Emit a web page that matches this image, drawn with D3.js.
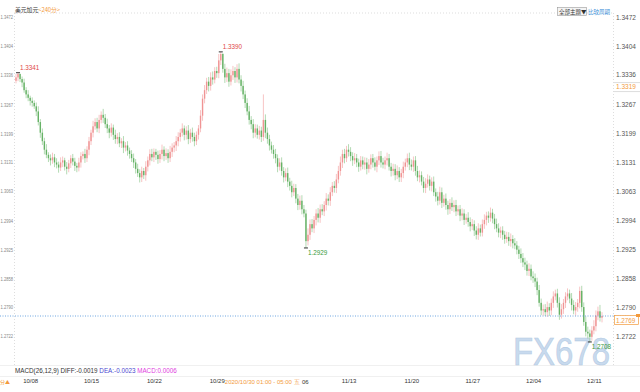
<!DOCTYPE html>
<html><head><meta charset="utf-8">
<script src="https://cdn.jsdelivr.net/npm/d3@7"></script>
<style>html,body{margin:0;padding:0;background:#fff;overflow:hidden}</style>
</head><body><svg id="c" width="640" height="392"></svg>
<script>
const title = "美元加元";
const period = "<240分>";
const firstOpen = 1.3322;
const closes = [
1.3330,1.3338,1.3326,1.3318,1.3300,1.3290,1.3282,1.3275,1.3270,1.3262,
1.3250,1.3225,1.3200,1.3180,1.3160,1.3148,1.3140,1.3135,1.3142,1.3130,
1.3125,1.3118,1.3130,1.3135,1.3120,1.3115,1.3128,1.3140,1.3132,1.3122,
1.3118,1.3130,1.3145,1.3150,1.3140,1.3160,1.3180,1.3200,1.3215,1.3225,
1.3210,1.3230,1.3242,1.3235,1.3220,1.3210,1.3200,1.3212,1.3195,1.3185,
1.3190,1.3175,1.3180,1.3165,1.3170,1.3158,1.3150,1.3140,1.3130,1.3115,
1.3105,1.3095,1.3110,1.3100,1.3120,1.3135,1.3150,1.3142,1.3155,1.3148,
1.3138,1.3150,1.3160,1.3145,1.3152,1.3140,1.3155,1.3165,1.3170,1.3180,
1.3190,1.3200,1.3210,1.3195,1.3205,1.3185,1.3200,1.3190,1.3180,1.3195,
1.3210,1.3240,1.3280,1.3300,1.3320,1.3310,1.3330,1.3325,1.3345,1.3340,
1.3370,1.3385,1.3350,1.3330,1.3340,1.3320,1.3335,1.3345,1.3330,1.3350,
1.3325,1.3310,1.3290,1.3270,1.3250,1.3230,1.3220,1.3200,1.3210,1.3195,
1.3205,1.3190,1.3230,1.3200,1.3185,1.3170,1.3160,1.3150,1.3140,1.3120,
1.3130,1.3110,1.3095,1.3105,1.3085,1.3075,1.3060,1.3070,1.3045,1.3030,
1.3040,1.3020,1.3010,1.2945,1.2960,1.2985,1.2975,1.2995,1.3010,1.3000,
1.3020,1.3015,1.3030,1.3045,1.3040,1.3060,1.3075,1.3070,1.3090,1.3110,
1.3130,1.3150,1.3140,1.3160,1.3155,1.3145,1.3135,1.3140,1.3130,1.3120,
1.3135,1.3125,1.3130,1.3115,1.3125,1.3140,1.3130,1.3120,1.3135,1.3145,
1.3130,1.3125,1.3135,1.3140,1.3120,1.3110,1.3115,1.3100,1.3110,1.3095,
1.3105,1.3120,1.3130,1.3140,1.3125,1.3120,1.3135,1.3110,1.3095,1.3100,
1.3085,1.3070,1.3080,1.3090,1.3075,1.3085,1.3060,1.3050,1.3040,1.3060,
1.3035,1.3045,1.3030,1.3020,1.3035,1.3025,1.3030,1.3015,1.3020,1.3005,
1.3010,1.2995,1.3000,1.2990,1.2980,1.2985,1.2970,1.2960,1.2975,1.2965,
1.2985,1.2995,1.3005,1.3000,1.3012,1.2998,1.2985,1.2975,1.2965,1.2970,
1.2960,1.2950,1.2955,1.2945,1.2950,1.2940,1.2935,1.2925,1.2915,1.2905,
1.2895,1.2890,1.2875,1.2880,1.2862,1.2858,1.2850,1.2830,1.2800,1.2782,
1.2785,1.2778,1.2790,1.2782,1.2800,1.2815,1.2822,1.2800,1.2772,1.2785,
1.2800,1.2815,1.2822,1.2810,1.2795,1.2782,1.2790,1.2800,1.2828,1.2790,
1.2755,1.2732,1.2728,1.2720,1.2735,1.2745,1.2770,1.2780,1.2765,1.2769
];
const wickUp = [
8,3,1,6,9,7,10,5,8,6, 9,12,7,10,8,13,6,9,11,8, 10,7,12,9,6,11,8,7,10,9, 7,11,9,6,12,8,10,7,13,9,
10,12,8,14,9,13,8,10,7,12, 9,11,7,12,8,10,7,9,11,8, 12,9,10,7,13,9,11,12,8,7, 10,9,12,8,11,9,14,10,8,12,
11,9,12,7,10,13,9,12,10,8, 8,13,10,12,9,11,12,14,9,10, 15,5,2,12,13,10,14,12,9,11, 13,10,12,9,11,13,9,12,10,9,
11,9,60,13,12,10,9,11,12,9, 10,12,9,11,13,9,12,10,9,11, 12,13,10,9,15,11,12,9,10,13, 11,12,9,13,10,12,9,11,13,12,
14,10,12,9,13,11,9,12,10,9, 10,9,12,11,13,9,10,12,9,11, 12,11,9,13,10,9,12,11,13,9, 10,12,9,11,13,12,9,10,12,11,
9,11,13,12,9,10,12,9,11,13, 11,9,12,10,9,13,11,12,9,10, 12,10,9,13,11,12,9,10,12,9, 11,13,9,10,12,9,11,13,12,9,
10,9,12,11,13,9,12,10,9,13, 12,11,9,13,10,12,11,9,12,10, 11,12,13,9,10,12,9,11,13,12, 9,10,12,9,13,11,12,9,10,12,
11,13,12,9,10,14,12,11,15,9
];
const wickDown = [
6,9,7,11,6,9,8,11,9,6, 11,8,12,9,11,8,9,12,8,11, 9,12,8,11,9,13,8,11,9,12, 11,9,12,8,11,9,13,9,11,8,
9,11,8,12,9,11,13,9,12,11, 12,9,11,13,9,12,11,9,13,11, 9,12,11,9,13,11,12,9,11,12, 11,9,13,12,9,11,9,12,11,13,
12,11,9,13,11,12,9,11,12,9, 11,9,12,11,9,13,11,12,9,11, 12,11,9,13,11,12,9,11,13,12, 9,13,11,12,9,11,12,13,11,9,
11,12,9,13,11,12,9,11,12,13, 9,11,12,9,13,11,12,9,11,12, 11,12,9,16,10,12,9,11,13,11, 12,9,11,13,11,12,9,11,12,9,
11,13,12,9,11,12,13,9,11,12, 9,11,12,13,9,11,12,9,13,11, 12,9,11,12,9,13,11,12,9,11, 11,12,9,11,13,9,12,11,9,12,
9,11,12,9,11,13,9,12,11,9, 12,9,11,13,11,9,12,11,9,13, 11,12,9,11,12,9,13,11,12,9, 9,11,13,12,9,11,12,9,11,13,
12,11,9,11,13,12,9,11,12,11, 11,13,11,12,9,11,13,12,9,11, 12,9,11,13,11,12,9,11,12,9, 11,12,9,11,13,9,12,11,13,11,
9,11,12,12,9,9,12,11,9,11
];
const yTicks = [1.3472,1.3404,1.3336,1.3267,1.3199,1.3131,1.3063,1.2994,1.2925,1.2858,1.2790,1.2722];
const xTickIdx = [7,37,68,99,164,195,225,255,285];
const xTickLabels = ["10/08","10/15","10/22","10/29","11/13","11/20","11/27","12/04","12/11"];
const crossDateIdx = 103;
const crossDateText = "2020/10/30 01:00 - 05:00 五";
const extraTickIdx = 141;
const extraTickText = "06";
const extremeIdx = [1,101,143,283];
const extremeType = ["high","high","low","low"];
const lastPrice = 1.2769;
const crossPrice = 1.3319;
const macdLabels = ["MACD(26,12,9) DIFF:-0.0019","DEA:-0.0023","MACD:0.0006"];
const macdColors = ["#333","#4a4ad0","#e040e0"];

const N = closes.length;
const data = closes.map((c,i)=>{
  const o = i ? closes[i-1] : firstOpen;
  return {i, o, c, h: Math.max(o,c)+wickUp[i]/1e4, l: Math.min(o,c)-wickDown[i]/1e4};
});

const svg = d3.select("#c");
const FONT = "'Liberation Sans Narrow','Arial Narrow','Liberation Sans',Arial,sans-serif";
const x = d3.scaleLinear().domain([0, N-1]).range([16, 602]);
const y = d3.scaleLinear().domain([1.2722, 1.3472]).range([336, 17]);

// frame / grid
svg.append("line").attr("x1",14).attr("x2",614).attr("y1",13).attr("y2",13)
  .attr("stroke","#ddd").attr("stroke-dasharray","1,2");
svg.append("line").attr("x1",14.5).attr("x2",14.5).attr("y1",13).attr("y2",365)
  .attr("stroke","#ddd").attr("stroke-dasharray","1,2");
svg.append("line").attr("x1",613.5).attr("x2",613.5).attr("y1",13).attr("y2",365)
  .attr("stroke","#ddd").attr("stroke-dasharray","1,2");
svg.append("line").attr("x1",0).attr("x2",640).attr("y1",365.5).attr("y2",365.5).attr("stroke","#f0f0f0");
svg.append("line").attr("x1",0).attr("x2",640).attr("y1",376.5).attr("y2",376.5).attr("stroke","#f0f0f0");

// watermark
svg.append("text").attr("x",513).attr("y",365).text("FX678")
  .attr("font-family","'Liberation Sans',Arial,sans-serif").attr("font-size",38)
  .attr("textLength",97).attr("lengthAdjust","spacingAndGlyphs")
  .attr("fill","#c8daee").attr("stroke","#b5cbe3").attr("stroke-width",0.6);

// axes
const ry = svg.append("g").attr("transform","translate(614,0)")
  .call(d3.axisRight(y).tickValues(yTicks).tickFormat(d3.format(".4f")).tickSize(0).tickPadding(2));
ry.select(".domain").remove();
ry.selectAll("text").attr("font-family",FONT).attr("font-size",6.5).attr("fill","#555");
const ly = svg.append("g").attr("transform","translate(14,0)")
  .call(d3.axisLeft(y).tickValues(yTicks).tickFormat(d3.format(".4f")).tickSize(0).tickPadding(1));
ly.select(".domain").remove();
ly.selectAll("text").attr("font-family",FONT).attr("font-size",6).attr("fill","#888")
  .attr("textLength",12.5).attr("lengthAdjust","spacingAndGlyphs");

const gx = svg.append("g").attr("transform","translate(0,377)")
  .call(d3.axisBottom(x).tickValues(xTickIdx).tickFormat((d,k)=>xTickLabels[k]).tickSize(0).tickPadding(2));
gx.select(".domain").remove();
gx.selectAll("text").attr("font-family",FONT).attr("font-size",6).attr("fill","#333");
svg.append("text").attr("x",x(crossDateIdx)).attr("y",384).text(crossDateText)
  .attr("font-family",FONT).attr("font-size",6).attr("fill","#f39a3c");
svg.append("text").attr("x",x(extraTickIdx)).attr("y",384).text(extraTickText)
  .attr("font-family",FONT).attr("font-size",6).attr("fill","#333");
svg.append("text").attr("x",0).attr("y",384).text("分▲")
  .attr("font-family","'Noto Sans CJK SC',sans-serif").attr("font-size",5).attr("fill","#f39a3c");

// MACD legend
const mt = svg.append("text").attr("x",15).attr("y",373).attr("font-family",FONT).attr("font-size",6.3);
macdLabels.forEach((t,k)=>mt.append("tspan").text(t+(k<2?"  ":"")).attr("fill",macdColors[k]));

// title
const tt = svg.append("text").attr("x",15).attr("y",12).attr("font-family","'Noto Sans CJK SC',sans-serif").attr("font-size",5.8);
tt.append("tspan").text(title).attr("fill","#333");
tt.append("tspan").text(period).attr("fill","#f39a3c");

// top right buttons
svg.append("rect").attr("x",557.5).attr("y",7.5).attr("width",29).attr("height",8).attr("fill","#f4f4f4").attr("stroke","#999").attr("stroke-width",0.6);
svg.append("text").attr("x",559).attr("y",14).text("全部主题▼").attr("font-family","'Noto Sans CJK SC',sans-serif").attr("font-size",5.5).attr("fill","#333");
svg.append("text").attr("x",588).attr("y",14).text("比较周期").attr("font-family","'Noto Sans CJK SC',sans-serif").attr("font-size",5.5).attr("fill","#3a8fd8");

// candles
const up = "#f09494", dn = "#66b266";
const cg = svg.append("g");
cg.selectAll("line.w").data(data).join("line").attr("class","w")
  .attr("x1",d=>x(d.i)).attr("x2",d=>x(d.i)).attr("y1",d=>y(d.h)).attr("y2",d=>y(d.l))
  .attr("stroke",d=>d.c>=d.o?"#f5b5b5":"#a0d0a0").attr("stroke-width",0.8);
cg.selectAll("rect.b").data(data).join("rect").attr("class","b")
  .attr("x",d=>x(d.i)-0.7).attr("width",1.4)
  .attr("y",d=>y(Math.max(d.o,d.c))).attr("height",d=>Math.max(0.8,Math.abs(y(d.o)-y(d.c))))
  .attr("fill",d=>d.c>=d.o?up:dn);

// extremes
extremeIdx.forEach((idx,k)=>{
  const d = data[idx]; const hi = extremeType[k]==="high";
  const v = hi ? d.h : d.l; const py = y(v);
  svg.append("line").attr("x1",x(idx)-2).attr("x2",x(idx)+2).attr("y1",py).attr("y2",py).attr("stroke","#333").attr("stroke-width",1);
  svg.append("text").attr("x",x(idx)+2).attr("y",hi?py-3:py+7).text(v.toFixed(4))
    .attr("font-family",FONT).attr("font-size",6.3).attr("fill",hi?"#e04848":"#3a9a3a");
});

// last price line
const lp = y(lastPrice);
svg.append("line").attr("x1",0).attr("x2",632).attr("y1",lp).attr("y2",lp)
  .attr("stroke","#4a90d9").attr("stroke-dasharray","1,1.5").attr("stroke-width",0.8);
svg.append("rect").attr("x",614.5).attr("y",lp-0.5).attr("width",24).attr("height",9).attr("fill","#fff").attr("stroke","#f39a3c").attr("stroke-width",0.7);
svg.append("text").attr("x",616).attr("y",lp+6.5).text(lastPrice.toFixed(4)).attr("font-family",FONT).attr("font-size",6.3).attr("fill","#f39a3c");
svg.append("path").attr("d",`M636,${lp-2}L640,${lp-2}L640,${lp+1}L636,${lp+1}Z`).attr("fill","#f39a3c");

// crosshair price
const cp = y(crossPrice);
svg.append("line").attr("x1",614).attr("x2",640).attr("y1",cp+0.5).attr("y2",cp+0.5).attr("stroke","#ddd");
svg.append("line").attr("x1",614).attr("x2",640).attr("y1",cp+9.5).attr("y2",cp+9.5).attr("stroke","#ddd");
svg.append("text").attr("x",616).attr("y",cp+7).text(crossPrice.toFixed(4)).attr("font-family",FONT).attr("font-size",6.5).attr("fill","#f39a3c");
</script></body></html>
